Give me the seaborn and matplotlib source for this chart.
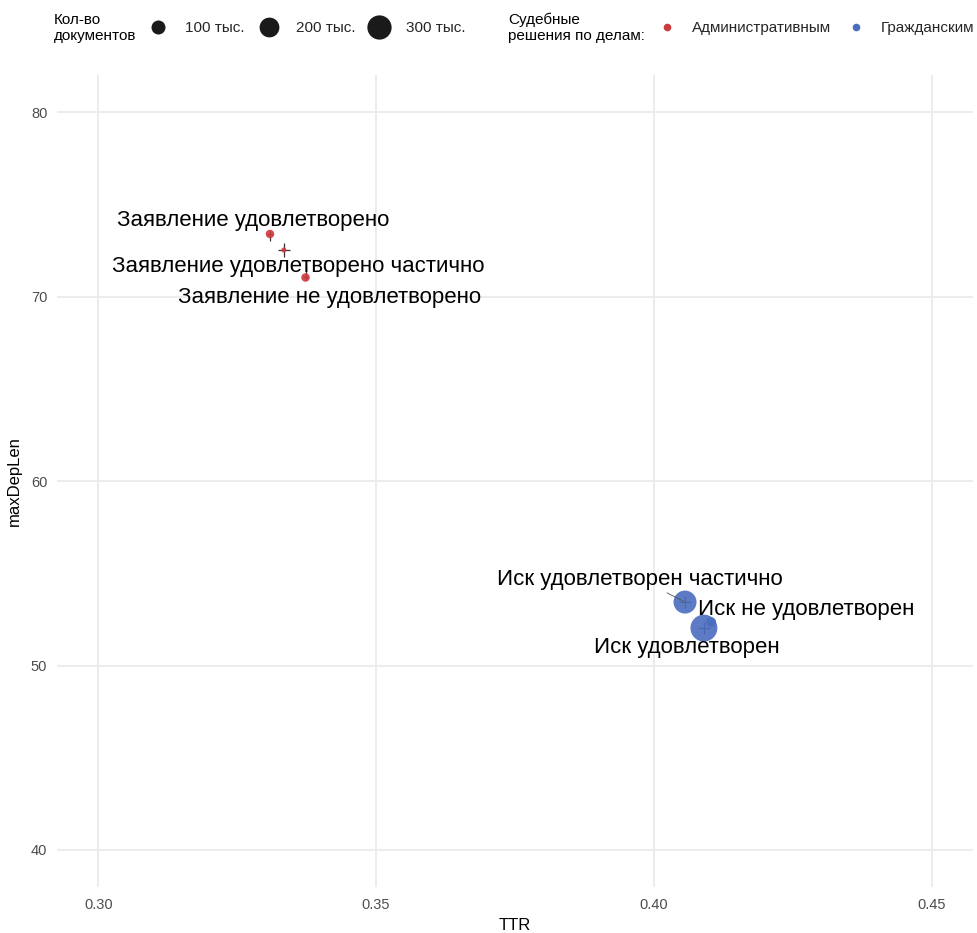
import matplotlib
matplotlib.use("Agg")
import matplotlib.pyplot as plt
from matplotlib.lines import Line2D
import seaborn as sns
import pandas as pd
import numpy as np

# ---------------- data ----------------
labels = ["Заявление удовлетворено", "Заявление удовлетворено частично",
          "Заявление не удовлетворено", "Иск удовлетворен частично",
          "Иск удовлетворен", "Иск не удовлетворен"]
case_type = ["Административным", "Административным", "Административным",
             "Гражданским", "Гражданским", "Гражданским"]
ttr = [0.3309, 0.3334, 0.3373, 0.4056, 0.4090, 0.4103]
max_dep_len = [73.40, 72.53, 71.04, 53.44, 52.03, 52.35]
n_docs = [37000, 13000, 37000, 270000, 370000, 51000]
ttr_err_lo = [0.0005, 0.0011, 0.0005, 0.0011, 0.0011, 0.0004]
ttr_err_hi = [0.0005, 0.0011, 0.0005, 0.0011, 0.0011, 0.0004]
dep_err_lo = [0.38, 0.38, 0.15, 0.33, 0.33, 0.15]
dep_err_hi = [0.15, 0.38, 0.62, 0.33, 0.33, 0.15]

size_breaks = [100000, 200000, 300000]
size_break_labels = ["100 тыс.", "200 тыс.", "300 тыс."]
case_levels = ["Административным", "Гражданским"]
x_ticks = [0.30, 0.35, 0.40, 0.45]
x_tick_labels = ["0.30", "0.35", "0.40", "0.45"]
y_ticks = [40, 50, 60, 70, 80]

# ---------------- style ----------------
palette = {"Административным": "#CD3A3F", "Гражданским": "#4A6DBE"}
label_offsets = [(-17, 13), (14, -16), (24, -20), (-45, 23), (-17, -19), (95, 13)]
S_NORM = (0, 400000)
S_RANGE = (0, 406.4)

sns.set_theme(style="whitegrid")
plt.rcParams["font.family"] = ["Liberation Sans", "DejaVu Sans"]
plt.rcParams["axes.unicode_minus"] = False

df = pd.DataFrame({"label": labels, "case": case_type, "TTR": ttr,
                   "maxDepLen": max_dep_len, "docs": n_docs})

fig = plt.figure(figsize=(9.77, 9.33), dpi=100)
ax = fig.add_axes([57 / 977, 1 - 887 / 933, (973 - 57) / 977, (887 - 75) / 933])
ax.set_facecolor("white")

ax.errorbar(ttr, max_dep_len, xerr=[ttr_err_lo, ttr_err_hi],
            yerr=[dep_err_lo, dep_err_hi], fmt="none", ecolor="#333333",
            elinewidth=0.9, capsize=0, zorder=2)

sns.scatterplot(data=df, x="TTR", y="maxDepLen", hue="case", size="docs",
                sizes=S_RANGE, size_norm=S_NORM, palette=palette,
                hue_order=case_levels, alpha=0.9, edgecolor="none",
                legend=False, zorder=3, ax=ax)

for i, lbl in enumerate(labels):
    kw = {}
    if lbl == "Иск удовлетворен частично":
        kw["arrowprops"] = dict(arrowstyle="-", color="#555555", lw=0.6,
                                shrinkA=0, shrinkB=0)
    ax.annotate(lbl, (ttr[i], max_dep_len[i]), xytext=label_offsets[i],
                textcoords="offset pixels", ha="center", va="center",
                fontsize=16, color="black", zorder=4, **kw)

ax.set_xlim(0.29257, 0.45743)
ax.set_ylim(37.99, 82.02)
ax.set_xticks(x_ticks)
ax.set_xticklabels(x_tick_labels)
ax.set_yticks(y_ticks)
ax.grid(True, color="#EBEBEB", linewidth=1.3)
for s in ax.spines.values():
    s.set_visible(False)
ax.tick_params(axis="both", length=0, labelsize=10.5, labelcolor="#4D4D4D")
ax.tick_params(axis="x", pad=8)
ax.tick_params(axis="y", pad=7)
ax.set_xlabel("TTR", fontsize=12, color="black")
ax.set_ylabel("maxDepLen", fontsize=12, color="black")
ax.xaxis.set_label_coords(0.5, -(918 - 887) / 812)
ax.yaxis.set_label_coords(-(57 - 22) / 916, 0.5)

# ---------------- legends ----------------
size_handles = [Line2D([], [], marker="o", linestyle="", color="#1A1A1A",
                       markeredgewidth=0,
                       markersize=np.sqrt(S_RANGE[1] * v / S_NORM[1]))
                for v in size_breaks]
fig.legend(size_handles, size_break_labels, ncol=3, loc="center left",
           bbox_to_anchor=(142.7 / 977, 1 - 28 / 933), frameon=False,
           fontsize=11, handlelength=2, handletextpad=0.77,
           columnspacing=0.57, borderpad=0, borderaxespad=0)
case_handles = [Line2D([], [], marker="o", linestyle="", color=palette[c],
                       markeredgewidth=0, markersize=5.5) for c in case_levels]
fig.legend(case_handles, case_levels, ncol=2, loc="center left",
           bbox_to_anchor=(651.7 / 977, 1 - 28 / 933), frameon=False,
           fontsize=11, handlelength=2, handletextpad=0.63,
           columnspacing=0.63, borderpad=0, borderaxespad=0)
fig.text(54 / 977, 1 - 28 / 933, "Кол-во\nдокументов", ha="left", va="center",
         fontsize=11, color="black", linespacing=1.15)
fig.text(508 / 977, 1 - 28 / 933, "Судебные\nрешения по делам:", ha="left",
         va="center", fontsize=11, color="black", linespacing=1.15)

fig.savefig("out.png", dpi=100, facecolor="white")
